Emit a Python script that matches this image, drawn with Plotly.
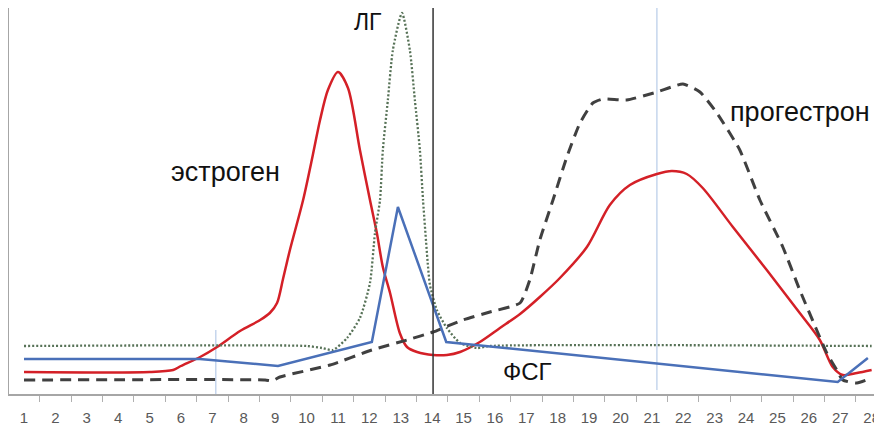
import plotly.graph_objects as go

# ---- data (day of cycle, relative level) ----
days_ticks = list(range(1, 29))
tick_labels = [str(d) for d in days_ticks]

estrogen_day = [1.00, 5.01, 5.75, 6.00, 6.61, 7.15, 7.88, 8.52, 8.83, 9.06, 9.25, 9.47, 9.89, 10.20, 10.43, 10.68,
                11.00, 11.32, 11.70, 12.02, 12.24, 12.43, 12.66, 12.97, 13.20, 13.52, 14.03, 14.47, 14.89, 15.52,
                16.16, 16.80, 17.43, 18.07, 18.93, 19.66, 20.30, 21.16, 21.64, 22.11, 22.62, 23.58, 24.66, 25.71,
                26.35, 26.76, 27.08, 27.53, 28.00]
estrogen_val = [22, 22, 24, 28, 37, 47, 63, 74, 81, 91, 115, 144, 194, 239, 274, 304,
                322, 306, 244, 194, 161, 127, 101, 61, 47, 42, 39, 39, 42, 52,
                66, 80, 97, 116, 147, 189, 209, 220, 223, 220, 206, 167, 124, 81,
                54, 27, 19, 21, 24]

lh_day = [1.00, 10.01, 10.49, 10.84, 11.29, 11.70, 12.02, 12.18, 12.34, 12.43, 12.59, 12.75, 13.04,
          13.29, 13.45, 13.61, 13.71, 13.87, 13.93, 14.15, 14.47, 14.89, 15.43, 15.84, 28.00]
lh_val = [48, 48, 46, 44, 56, 76, 111, 161, 194, 244, 294, 344, 381,
          344, 294, 244, 194, 127, 109, 84, 66, 51, 46, 48, 48]

fsh_day = [1.00, 6.60, 9.09, 12.08, 12.91, 14.45, 26.92, 27.88]
fsh_val = [35, 35, 28, 52, 187, 52, 12, 36]

prog_day = [1.00, 8.68, 8.90, 9.15, 10.75, 12.08, 13.20, 14.03, 14.98, 15.84, 16.80, 17.11, 17.43, 17.85,
            18.29, 18.71, 19.12, 19.44, 20.20, 21.16, 21.99, 22.53, 23.07, 23.80, 24.44, 25.17, 25.71,
            26.25, 26.57, 26.89, 27.08, 27.53, 28.00]
prog_val = [14, 14, 13, 17, 29, 44, 54, 62, 74, 82, 91, 114, 154, 194,
            237, 271, 291, 295, 294, 302, 310, 302, 281, 244, 194, 147, 104,
            64, 41, 24, 14, 11, 16]

ovulation_day = 14.03
light_marker_days = [7.11, 21.16]
light_marker_spans = [(0, 64), (4, 386)]

labels_text = ["эстроген", "прогестрон", "ФСГ"]
labels_day = [7.43, 25.71, 17.05]
labels_val = [222, 282, 23]
labels_size = [27, 27, 24]
lh_label_text = "ЛГ"
lh_label_day = 11.96

fig = go.Figure()

fig.add_trace(go.Scatter(x=estrogen_day, y=estrogen_val, mode="lines",
                         line=dict(color="#d42027", width=2.5, shape="spline", smoothing=0.8),
                         hoverinfo="skip"))
fig.add_trace(go.Scatter(x=lh_day, y=lh_val, mode="lines",
                         line=dict(color="#577257", width=2.3, dash="2px,2px", shape="spline", smoothing=0.6),
                         hoverinfo="skip"))
fig.add_trace(go.Scatter(x=prog_day, y=prog_val, mode="lines",
                         line=dict(color="#404040", width=3, dash="11px,7px", shape="spline", smoothing=0.5),
                         hoverinfo="skip"))
fig.add_trace(go.Scatter(x=fsh_day, y=fsh_val, mode="lines",
                         line=dict(color="#4a70b8", width=2.5),
                         hoverinfo="skip"))

# vertical markers
fig.add_shape(type="line", x0=ovulation_day, x1=ovulation_day, y0=0, y1=386,
              xref="x", yref="y", line=dict(color="#333333", width=1.5))
for d, (a, b) in zip(light_marker_days, light_marker_spans):
    fig.add_shape(type="line", x0=d, x1=d, y0=a, y1=b, xref="x", yref="y",
                  line=dict(color="#b7cbe8", width=1.2), layer="below")

for t, d, v, s in zip(labels_text, labels_day, labels_val, labels_size):
    fig.add_annotation(x=d, y=v, text=t, showarrow=False, xref="x", yref="y",
                       font=dict(family="Liberation Sans, Arial", size=s, color="#111111"),
                       xanchor="center", yanchor="middle", borderpad=0)
fig.add_annotation(x=lh_label_day, y=1, text=lh_label_text, showarrow=False, xref="x", yref="paper",
                   font=dict(family="Liberation Sans, Arial", size=23, color="#111111"),
                   xanchor="center", yanchor="top", borderpad=0)

# the page body adds an 8px offset, so the figure is sized to fit the remaining window
fig.update_layout(
    width=874, height=418,
    margin=dict(l=1, r=0, t=0, b=32),
    paper_bgcolor="white", plot_bgcolor="white",
    showlegend=False,
    xaxis=dict(range=[0.522, 28.33], tickmode="array", tickvals=days_ticks, ticktext=tick_labels,
               ticks="outside", ticklen=9, tickcolor="rgba(0,0,0,0)",
               tickfont=dict(family="Liberation Sans, Arial", size=15, color="#595959"),
               showline=True, linecolor="#a6a6a6", linewidth=1.5, showgrid=False, zeroline=False,
               minor=dict(tickmode="linear", tick0=0.5, dtick=1, ticks="outside", ticklen=6,
                          tickcolor="#b0b0b0", tickwidth=1, showgrid=False)),
    yaxis=dict(range=[0, 386], showline=True, linecolor="#a6a6a6", linewidth=2,
               showticklabels=False, ticks="", showgrid=False, zeroline=False),
)

fig.write_html("out.html")
